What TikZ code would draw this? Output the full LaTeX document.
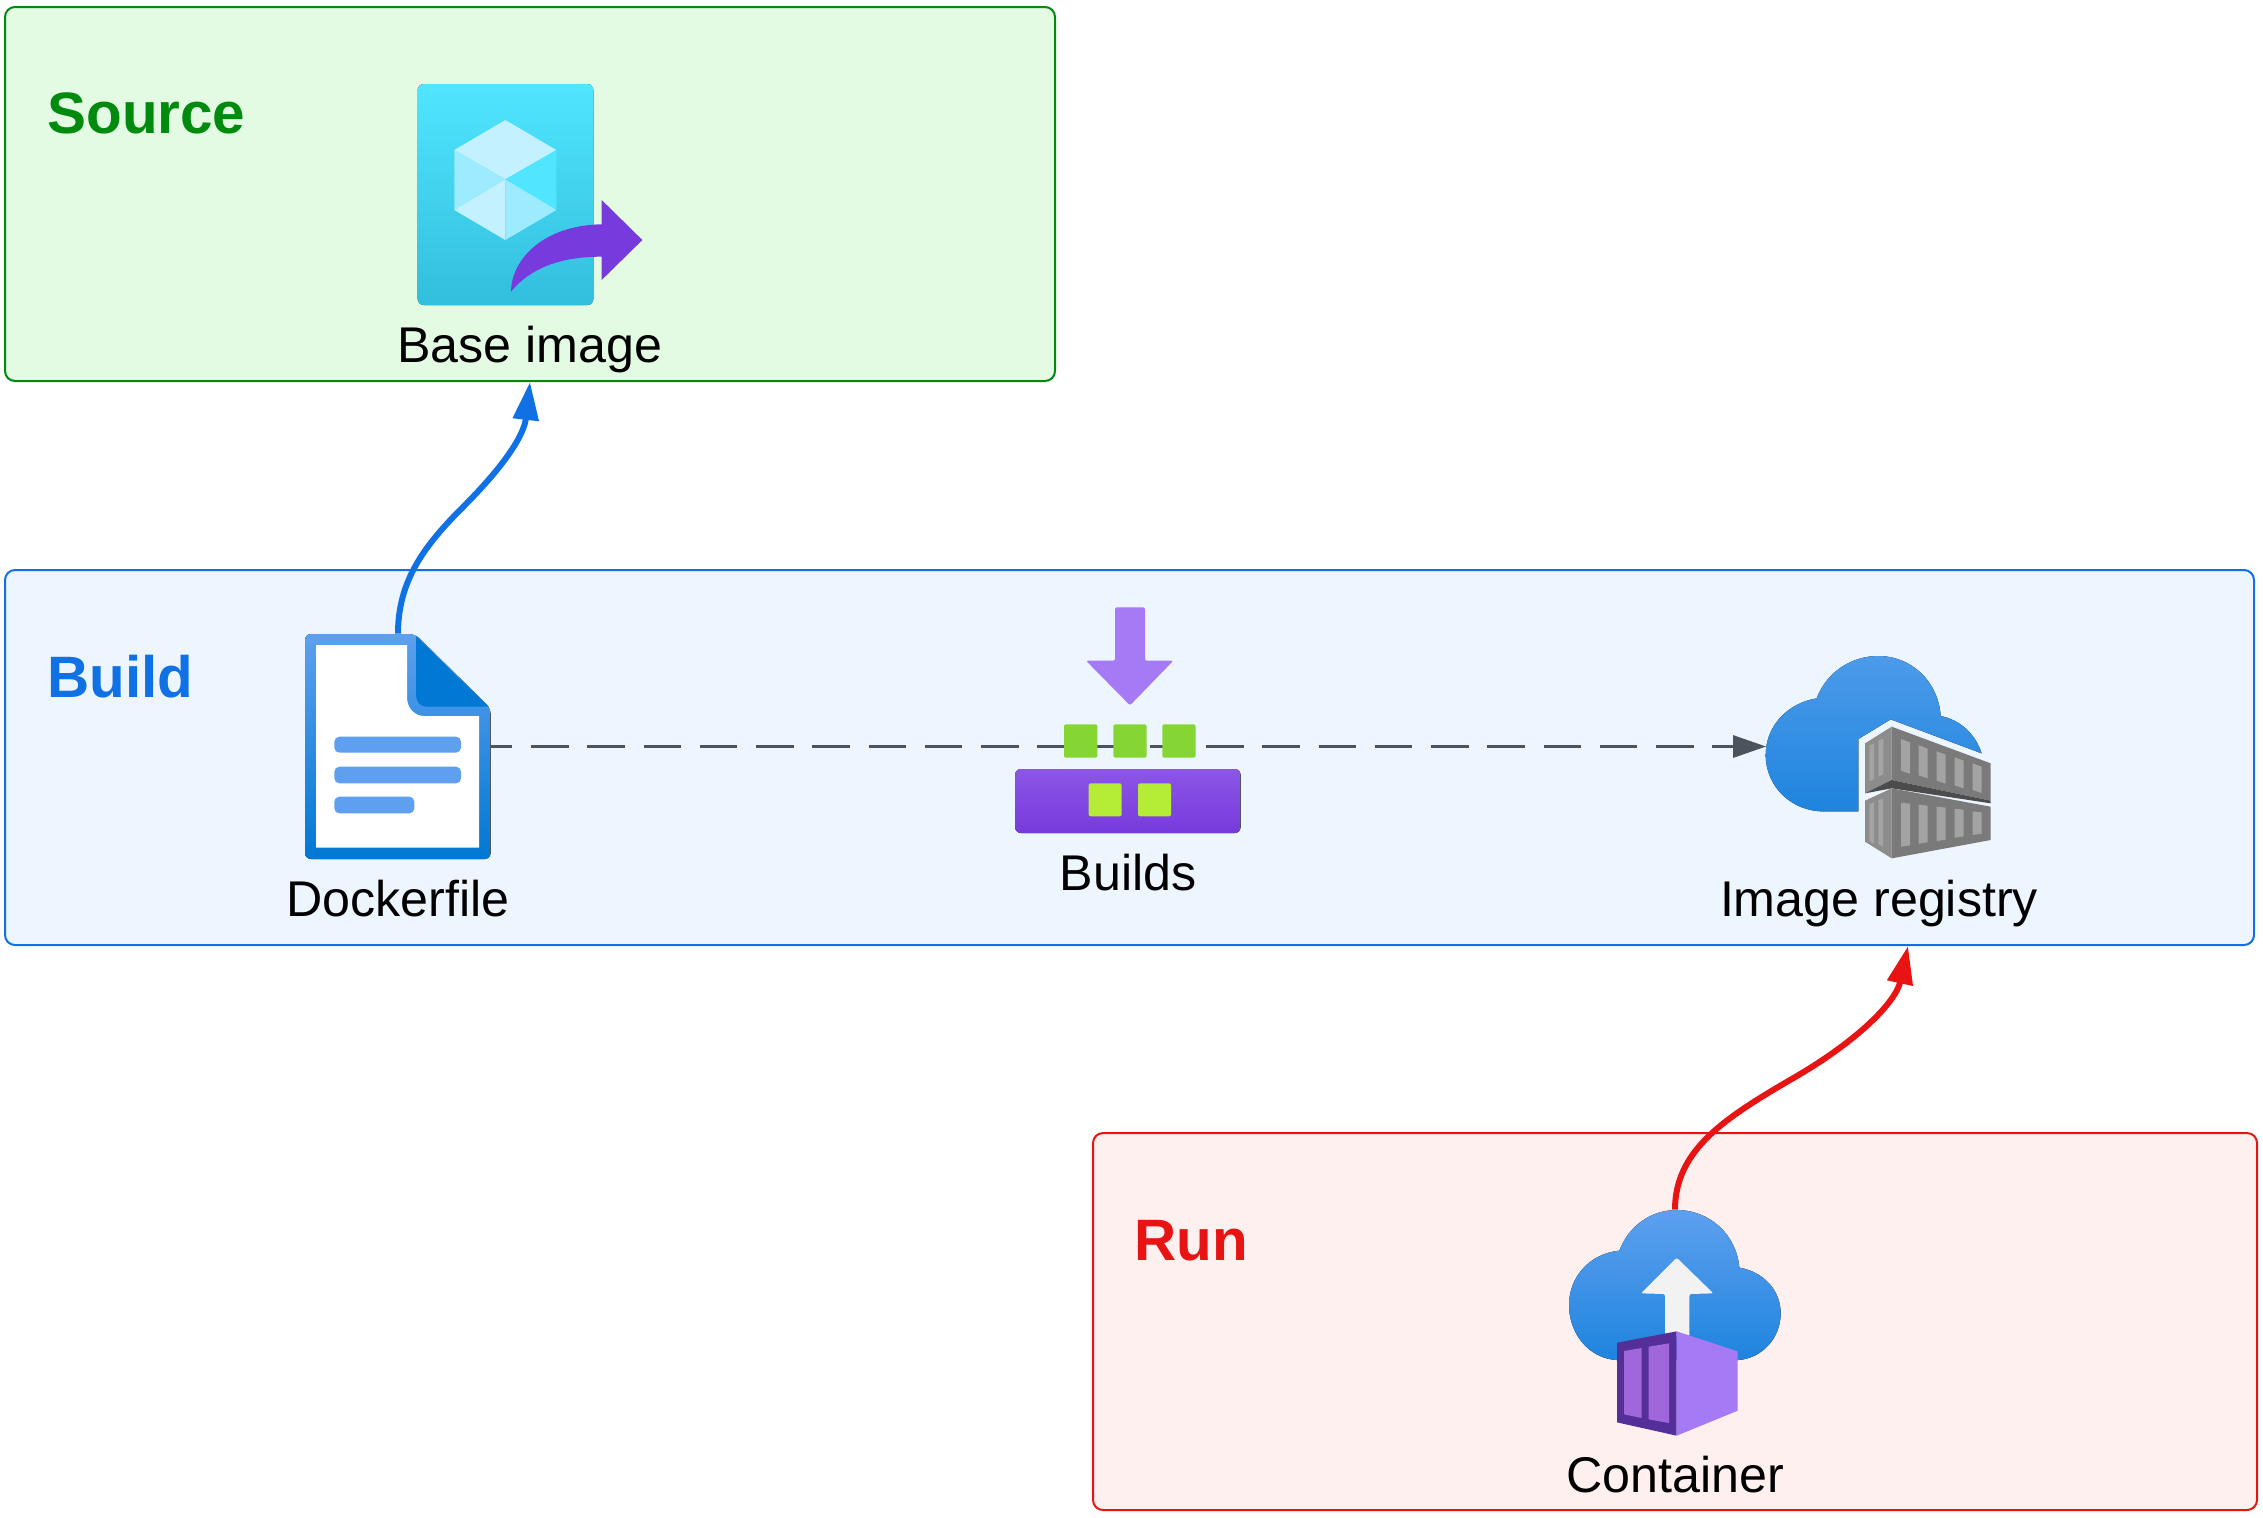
\documentclass[tikz,border=0pt]{standalone}
\usepackage{fontspec}
\setmainfont{Liberation Sans}
\usetikzlibrary{arrows.meta, positioning}
\definecolor{srcline}{HTML}{008A0E}
\definecolor{srcfill}{HTML}{E3FAE3}
\definecolor{bldline}{HTML}{1071E5}
\definecolor{bldfill}{HTML}{EDF5FF}
\definecolor{runline}{HTML}{E81313}
\definecolor{runfill}{HTML}{FFF0F0}
\definecolor{dashgrey}{HTML}{4C535D}
\definecolor{azlight}{HTML}{5EA0EF}
\definecolor{azdark}{HTML}{0078D4}
\definecolor{cloudtop}{HTML}{4C9BEA}
\definecolor{cloudlow}{HTML}{1E84DE}
\definecolor{tealtop}{HTML}{50E6FF}
\definecolor{teallow}{HTML}{32BEDD}
\definecolor{icepale}{HTML}{C3F1FF}
\definecolor{icemid}{HTML}{9CEBFF}
\definecolor{purple}{HTML}{773ADC}
\definecolor{purpletop}{HTML}{8C56E6}
\definecolor{plum}{HTML}{552F99}
\definecolor{orchid}{HTML}{A066DB}
\definecolor{lilac}{HTML}{A67AF4}
\definecolor{leaf}{HTML}{86D633}
\definecolor{lime}{HTML}{B4EC36}
\begin{document}
\begin{tikzpicture}[x=0.5pt, y=-0.5pt]
\tikzstyle{panel}=[rectangle, rounded corners=5pt, line width=1pt, inner sep=0pt]
\tikzstyle{icon}=[rectangle, inner sep=0pt]
\tikzstyle{title}=[anchor=west, inner sep=0pt, font=\fontsize{29.2}{34}\selectfont\bfseries]
\tikzstyle{caption}=[inner sep=0pt, text height=18.5pt, text depth=5.5pt, font=\fontsize{25.1}{30}\selectfont]
\tikzstyle{connect}=[-{Triangle[length=19pt, width=12.5pt]}, line width=3pt]
\tikzstyle{slit}=[fill=black!36]
    \useasboundingbox (0,0) rectangle (2263,1517);

    \node[panel, draw=srcline, fill=srcfill, minimum width=525pt, minimum height=187pt] (source) at (530,194) { };
    \node[panel, draw=bldline, fill=bldfill, minimum width=1124.5pt, minimum height=187.5pt] (build) at (1129.5,757.5) { };
    \node[panel, draw=runline, fill=runfill, minimum width=582pt, minimum height=188.5pt] (run) at (1675,1321.5) { };

    \node[title, text=srcline] (sourcetitle) at (47,113) {Source};
    \node[title, text=bldline] (buildtitle) at (47,677) {Build};
    \node[title, text=runline] (runtitle) at (1134,1241) {Run};

    \node[icon, minimum width=112pt, minimum height=110.5pt] (baseimage) at (530,194.5) { };
    \node[icon, minimum width=93pt, minimum height=112.5pt] (dockerfile) at (398,746.5) { };
    \node[icon, minimum width=113pt, minimum height=113pt] (builds) at (1128,720) { };
    \node[icon, minimum width=112.5pt, minimum height=101pt] (registry) at (1879,757) { };
    \node[icon, minimum width=106pt, minimum height=113pt] (container) at (1675,1323) { };
    \coordinate (registrytip) at (1908,946);

    \node[caption, below=10pt of baseimage] (baselabel) {Base image};
    \node[caption, below=9.8pt of dockerfile] (dockerlabel) {Dockerfile};
    \node[caption, below=9.8pt of builds] (buildslabel) {Builds};
    \node[caption, below=10.3pt of registry] (registrylabel) {Image registry};
    \node[caption, below=9.3pt of container] (containerlabel) {Container};

    \draw[dashgrey, line width=1.5pt, dash pattern=on 18.75pt off 9.375pt, dash phase=8.25pt, -{Triangle[length=16.5pt, width=11pt]}] (dockerfile.east) -- (dockerfile.east -| registry.west);
    \draw[connect, bldline] (dockerfile.north) .. controls (398,580) and (425,545) .. (463,507) .. controls (505,465) and (524,435) .. (source.south);
    \draw[connect, runline] (container.north) .. controls (1675,1150) and (1725,1118) .. (1790,1080) .. controls (1860,1040) and (1896,1001) .. (registrytip);

    % base image
    \begin{scope}[shift={(380,60)}, scale=1/3]
        \fill[rounded corners=3pt, top color=tealtop, bottom color=teallow] (113,72) rectangle (640,735);
        \fill[icepale] (376,180) -- (529,270) -- (376,358) -- (223,270) -- cycle;
        \fill[icemid] (223,270) -- (376,358) -- (223,450) -- cycle;
        \fill[tealtop] (529,270) -- (376,358) -- (529,450) -- cycle;
        \fill[icepale] (223,450) -- (376,358) -- (376,540) -- cycle;
        \fill[icemid] (529,450) -- (376,358) -- (376,540) -- cycle;
        \fill[purple] (393,695) .. controls (395,590) and (500,495) .. (665,493) -- (665,420) -- (787,540) -- (665,660) -- (665,590) .. controls (540,590) and (450,625) .. (393,695) -- cycle;
    \end{scope}

    % dockerfile
    \begin{scope}[shift={(280,610)}, scale=1/3]
        \fill[rounded corners=3pt, top color=azlight, bottom color=azdark] (75,72) -- (405,72) -- (632,295) -- (632,747) -- (75,747) -- cycle;
        \fill[white] (108,105) -- (381,105) -- (381,262) .. controls (381,295) and (405,318) .. (432,318) -- (597,318) -- (597,713) -- (108,713) -- cycle;
        \fill[azdark] (408,78) -- (625,290) -- (440,290) .. controls (420,290) and (408,275) .. (408,255) -- cycle;
        \fill[azlight, rounded corners=2.5pt] (163,380) rectangle (543,428);
        \fill[azlight, rounded corners=2.5pt] (163,470) rectangle (543,520);
        \fill[azlight, rounded corners=2.5pt] (163,560) rectangle (403,610);
    \end{scope}

    % builds
    \begin{scope}[shift={(990,590)}, scale=1/3]
        \fill[lilac, rounded corners=1pt] (375,52) -- (465,52) -- (465,212) -- (550,212) -- (420,346) -- (288,212) -- (375,212) -- cycle;
        \foreach \sx in {222,370,517}
            \fill[leaf, rounded corners=1pt] (\sx,403) rectangle (\sx+100,503);
        \fill[rounded corners=3pt, top color=purpletop, bottom color=purple] (75,537) rectangle (752,729);
        \foreach \sx in {296,444}
            \fill[lime, rounded corners=1pt] (\sx,580) rectangle (\sx+99,679);
    \end{scope}

    % image registry
    \begin{scope}[shift={(1750,640)}, scale=1/3]
        \fill[top color=cloudtop, bottom color=cloudlow] (325,514) -- (220,514) .. controls (125,514) and (47,440) .. (47,345) .. controls (47,260) and (110,190) .. (200,175) .. controls (228,100) and (300,48) .. (385,48) .. controls (485,48) and (565,125) .. (572,228) .. controls (630,240) and (675,280) .. (695,340) -- (422,238) -- (325,297) -- cycle;
        \fill[black!45] (345,310) -- (425,260) -- (425,420) -- (345,460) -- cycle;
        \fill[black!52] (425,260) -- (722,370) -- (722,482) -- (425,420) -- cycle;
        \fill[black!70] (345,460) -- (425,420) -- (722,482) -- (722,490) -- (425,445) -- cycle;
        \fill[black!45] (345,482) -- (425,445) -- (425,655) -- (345,605) -- cycle;
        \fill[black!52] (425,445) -- (722,500) -- (722,600) -- (425,655) -- cycle;
        \foreach \sx/\st/\sb in {453/297/392, 506/316/406, 560/334/422, 614/352/436, 668/370/450}
            \fill[slit] (\sx,\st) -- (\sx+27,\st+10) -- (\sx+27,\sb+9) -- (\sx,\sb) -- cycle;
        \foreach \sx/\st/\sb in {453/488/620, 506/494/611, 560/500/603, 614/506/593, 668/514/585}
            \fill[slit] (\sx,\st) -- (\sx+27,\st+3) -- (\sx+27,\sb-4) -- (\sx,\sb) -- cycle;
        \fill[slit] (358,316) -- (372,311) -- (372,418) -- (358,424) -- cycle;
        \fill[slit] (385,302) -- (400,295) -- (400,403) -- (385,410) -- cycle;
        \fill[slit] (358,493) -- (372,487) -- (372,612) -- (358,602) -- cycle;
        \fill[slit] (385,481) -- (399,476) -- (399,620) -- (385,612) -- cycle;
    \end{scope}

    % container
    \begin{scope}[shift={(1550,1190)}, scale=1/3]
        \fill[top color=azlight, bottom color=cloudlow] (200,510) .. controls (115,505) and (57,430) .. (57,345) .. controls (57,260) and (120,190) .. (208,182) .. controls (235,110) and (300,60) .. (380,60) .. controls (480,60) and (560,135) .. (568,233) .. controls (640,245) and (692,300) .. (692,370) .. controls (692,445) and (635,505) .. (565,510) -- cycle;
        \fill[black!5, rounded corners=1pt] (380,203) -- (490,310) -- (418,312) -- (418,440) -- (345,440) -- (345,312) -- (273,310) -- cycle;
        \fill[plum] (201,458) -- (380,424) -- (380,737) -- (201,697) -- cycle;
        \fill[lilac] (380,424) -- (563,484) -- (563,662) -- (380,737) -- cycle;
        \fill[orchid] (222,483) -- (275,474) -- (275,684) -- (222,673) -- cycle;
        \fill[orchid] (296,470) -- (357,460) -- (357,699) -- (296,688) -- cycle;
    \end{scope}
\end{tikzpicture}
\end{document}
